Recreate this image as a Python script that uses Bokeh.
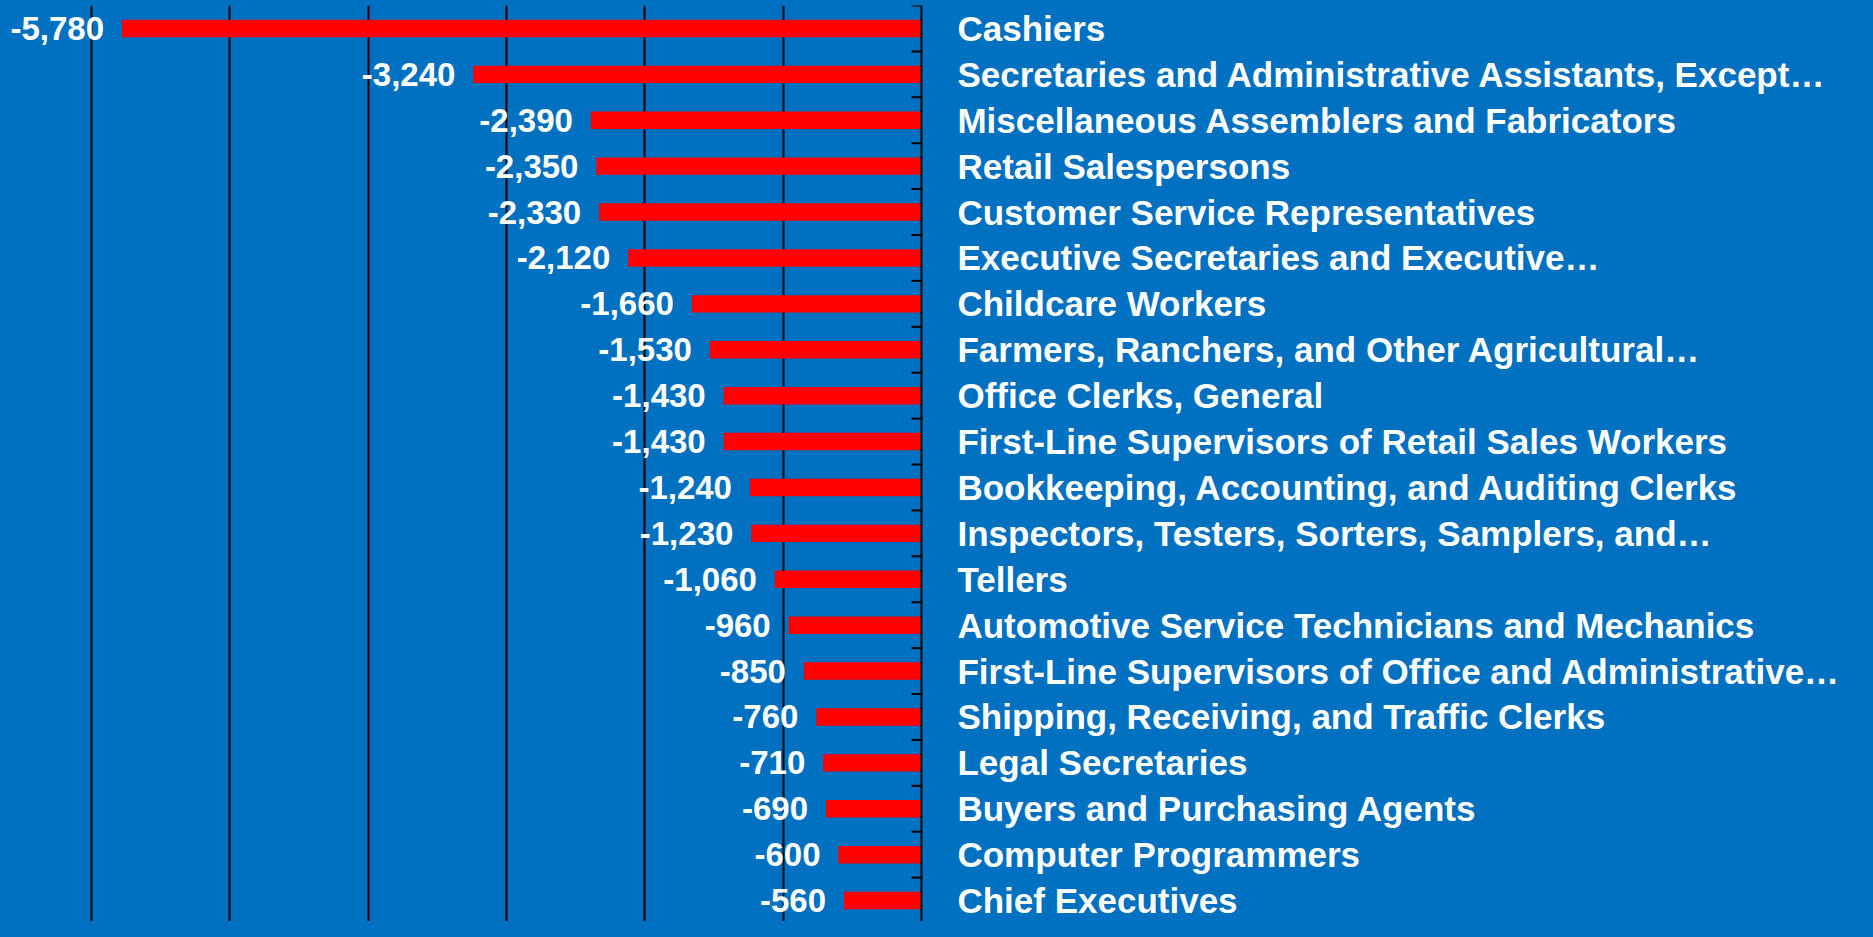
import numpy as np
from bokeh.plotting import figure
from bokeh.models import ColumnDataSource, Range1d, Grid, FixedTicker, Span, GlobalInlineStyleSheet
from bokeh.core.properties import value
from bokeh.embed import file_html
from bokeh.resources import INLINE

categories = [
    "Cashiers",
    "Secretaries and Administrative Assistants, Except…",
    "Miscellaneous Assemblers and Fabricators",
    "Retail Salespersons",
    "Customer Service Representatives",
    "Executive Secretaries and Executive…",
    "Childcare Workers",
    "Farmers, Ranchers, and Other Agricultural…",
    "Office Clerks, General",
    "First-Line Supervisors of Retail Sales Workers",
    "Bookkeeping, Accounting, and Auditing Clerks",
    "Inspectors, Testers, Sorters, Samplers, and…",
    "Tellers",
    "Automotive Service Technicians and Mechanics",
    "First-Line Supervisors of Office and Administrative…",
    "Shipping, Receiving, and Traffic Clerks",
    "Legal Secretaries",
    "Buyers and Purchasing Agents",
    "Computer Programmers",
    "Chief Executives",
]
values = [-5780, -3240, -2390, -2350, -2330, -2120, -1660, -1530, -1430, -1430,
          -1240, -1230, -1060, -960, -850, -760, -710, -690, -600, -560]
grid_ticks = [-6000, -5000, -4000, -3000, -2000, -1000]

n = len(categories)
ypos = [n - 1 - i for i in range(n)]
labels = [f"{v:,}" for v in values]

src = ColumnDataSource(dict(y=ypos, v=values, cat=categories, lab=labels))

BG = "#0070C0"
W, H = 1857, 921
p = figure(width=W, height=H, output_backend="svg", toolbar_location=None,
           x_range=Range1d(-6659, 6768), y_range=Range1d(-0.456, 19.5),
           x_axis_location=None, y_axis_location=None,
           min_border=0, min_border_left=0, min_border_right=0,
           min_border_top=5, min_border_bottom=0)
p.stylesheets = [GlobalInlineStyleSheet(css=f"html, body {{ background: {BG}; }}")]
p.background_fill_color = BG
p.border_fill_color = BG
p.outline_line_color = None
p.grid.visible = False

g = Grid(dimension=0, ticker=FixedTicker(ticks=grid_ticks),
         grid_line_color="black", grid_line_width=2)
p.add_layout(g)

p.hbar(y="y", left=0, right="v", height=0.38, source=src,
       fill_color="#FF0000", line_color=None)

p.add_layout(Span(location=0, dimension="height", line_color="black", line_width=2))
bounds = [b + 0.5 for b in range(-1, n)]
p.ray(x=[0] * len(bounds), y=bounds, length=10, length_units="screen",
      angle=np.pi, line_color="black", line_width=2)

p.text(x="v", y="y", text="lab", source=src, x_offset=-18,
       text_align="right", text_baseline="middle",
       text_font=value("Liberation Sans"), text_font_style="bold",
       text_font_size="33px", text_color="white")
p.text(x=0, y="y", text="cat", source=src, x_offset=36,
       text_align="left", text_baseline="middle",
       text_font=value("Liberation Sans"), text_font_style="bold",
       text_font_size="35px", text_color="white")

open("out.html", "w").write(file_html(p, INLINE))
